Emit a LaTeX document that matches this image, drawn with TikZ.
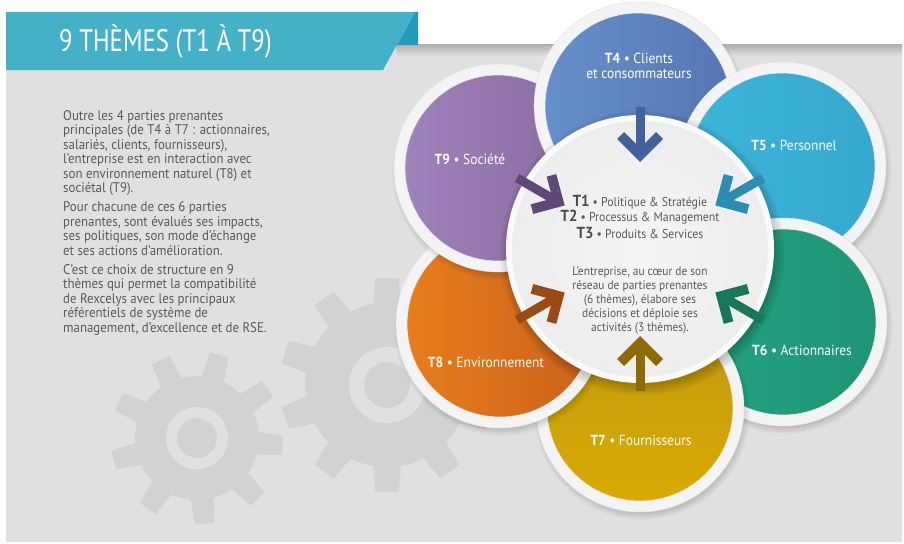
\documentclass[tikz,border=0pt]{standalone}
\usepackage{fontspec}
\setmainfont{PT Sans}[FakeStretch=0.92]
\newfontfamily\titlefont{PT Sans}[FakeStretch=0.8]
\usetikzlibrary{calc}
\definecolor{panel}{HTML}{E0E0E0}
\definecolor{tealband}{HTML}{45B1C8}
\definecolor{tealdark}{HTML}{1E9CB9}
\definecolor{txt}{HTML}{5A5A5A}
\definecolor{txtdark}{HTML}{4A4A4A}
\definecolor{gearcol}{HTML}{D2D2D2}
\definecolor{ringcol}{HTML}{F4F4F4}
\definecolor{cTfoura}{HTML}{6690CA}\definecolor{cTfourb}{HTML}{5676B2}
\definecolor{cTfivea}{HTML}{3DB5DA}\definecolor{cTfiveb}{HTML}{36A8CF}
\definecolor{cTsixa}{HTML}{22A381}\definecolor{cTsixb}{HTML}{1F9576}
\definecolor{cTsevena}{HTML}{C09A0E}\definecolor{cTsevenb}{HTML}{D9AA05}
\definecolor{cTeighta}{HTML}{E87D1C}\definecolor{cTeightb}{HTML}{C9621B}
\definecolor{cTninea}{HTML}{A082BC}\definecolor{cTnineb}{HTML}{88699F}
\definecolor{aTfour}{HTML}{41629C}
\definecolor{aTfive}{HTML}{2C8DB2}
\definecolor{aTsix}{HTML}{17775A}
\definecolor{aTseven}{HTML}{8C6B07}
\definecolor{aTeight}{HTML}{9A4B14}
\definecolor{aTnine}{HTML}{5D4878}
\tikzset{
  lbl/.style={text=white, font=\fontsize{14.6}{15}\selectfont, inner sep=0pt, align=center},
  bodytext/.style={text=txt, font=\fontsize{14}{14.5}\selectfont, inner sep=0pt, align=left},
  centertext/.style={text=txt, font=\fontsize{12.4}{14}\selectfont, inner sep=0pt, align=center},
  tline/.style={text=txt, font=\fontsize{12.8}{15.5}\selectfont, inner sep=0pt, align=center},
}
\newcommand\tnum[1]{{\color{txtdark}\fontsize{16}{16}\selectfont\bfseries #1}}
\newcommand\themedisk[3]{%
  \foreach \k in {1,...,6}{\fill[black,opacity=0.03] (#1+2,#2+4) circle[radius={98pt+1.6*\k pt}];}
  \fill[ringcol] (#1,#2) circle[radius=104pt];
  \draw[black!10, line width=0.5pt] (#1,#2) circle[radius=104pt];
  \shade[#3] (#1,#2) circle[radius=93pt];
  \draw[black!8, line width=0.6pt] (#1,#2) circle[radius=93pt];
}
\newcommand\gearshape[9]{%
  \foreach \i in {1,...,#6}{%
    \pgfmathsetmacro\ang{#7+(\i-1)*360/#6}
    \fill[gearcol, rotate around={\ang:(#1,#2)}] (#1-#5/2,#2-#3+3) -- (#1-#5*0.42,#2-#4) -- (#1+#5*0.42,#2-#4) -- (#1+#5/2,#2-#3+3) -- cycle;
  }
  \fill[gearcol] (#1,#2) circle[radius=#3 pt];
  \fill[panel, even odd rule] (#1,#2) circle[radius=#8 pt] (#1,#2) circle[radius=#9 pt];
}
\newcommand\inarrow[3]{%
  \coordinate (#3s) at ($(ctr)+(#1:142pt)$);
  \coordinate (#3t) at ($(ctr)+(#1:87pt)$);
  \coordinate (#3m) at ($(ctr)+(#1:99pt)$);
  \draw[line width=9pt, #2] (#3s) -- (#3m);
  \fill[#2, shift={(#3t)}, rotate=#1+180] (0pt,0pt) -- (-23pt,23pt) -- (-30pt,16pt) -- (-14pt,0pt) -- (-30pt,-16pt) -- (-23pt,-23pt) -- cycle;
}
\begin{document}
\begin{tikzpicture}[x=1pt,y=-1pt]
\useasboundingbox (0,0) rectangle (904,543);
\fill[white] (0,0) rectangle (904,543);
\fill[panel] (6,45) rectangle (902,542);
\shade[top color=black!30, bottom color=panel] (396,45) rectangle (902,56);
% gears
\gearshape{197}{438}{62}{86}{23}{9}{25}{31}{20}
\gearshape{387}{385}{82}{107}{28}{10}{0}{38}{23}
% banner
\fill[tealband] (6,12) -- (415,12) -- (383,70) -- (6,70) -- cycle;
\fill[tealdark] (415,12) -- (418,12) -- (418,45) -- (397,45) -- cycle;
\node[anchor=west, text=white, font=\titlefont\fontsize{31}{32}\selectfont, inner sep=0pt] (title) at (59,41) {9 THÈMES (T1 À T9)};
% left text
\node[bodytext, anchor=north west] (intro) at (63,110) {%
Outre les 4 parties prenantes\\
principales (de T4 à T7 : actionnaires,\\
salariés, clients, fournisseurs),\\
l’entreprise est en interaction avec\\
son environnement naturel (T8) et\\
sociétal (T9).\\[4.5pt]
Pour chacune de ces 6 parties\\
prenantes, sont évalués ses impacts,\\
ses politiques, son mode d’échange\\
et ses actions d’amélioration.\\[4.5pt]
C’est ce choix de structure en 9\\
thèmes qui permet la compatibilité\\
de Rexcelys avec les principaux\\
référentiels de système de\\
management, d’excellence et de RSE.};
% outer circles (pinwheel overlap)
\themedisk{638}{106}{left color=cTfoura,right color=cTfourb}
\themedisk{782}{166}{left color=cTfivea,right color=cTfiveb}
\themedisk{783}{322}{left color=cTsixa,right color=cTsixb}
\themedisk{640}{408}{top color=cTsevena,bottom color=cTsevenb}
\themedisk{500}{324}{left color=cTeighta,right color=cTeightb}
\begin{scope}[even odd rule]
\clip (0,0) -- (904,0) -- (904,543) -- (0,543) -- cycle (638,106) circle[radius=104.3pt];
\themedisk{498}{168}{left color=cTninea,right color=cTnineb}
\end{scope}
% center disk
\node[coordinate] (ctr) at (640,249) {};
\foreach \k in {1,...,7}{\fill[black,opacity=0.03] (642,253) circle[radius={131pt+1.6*\k pt}];}
\fill[white!98!black] (ctr) circle[radius=134pt];
\shade[inner color=white!96!black, outer color=white!93!black] (ctr) circle[radius=128pt];
% arrows
\inarrow{90}{aTfour}{afour}
\inarrow{30}{aTfive}{afive}
\inarrow{-30}{aTsix}{asix}
\inarrow{-90}{aTseven}{aseven}
\inarrow{210}{aTeight}{aeight}
\inarrow{150}{aTnine}{anine}
% labels
\node[lbl] (lfour) at (639,66) {\textbf{T4} • Clients\\et consommateurs};
\node[lbl] (lfive) at (794,145) {\textbf{T5} • Personnel};
\node[lbl] (lsix) at (802,350) {\textbf{T6} • Actionnaires};
\node[lbl] (lseven) at (641,440) {\textbf{T7} • Fournisseurs};
\node[lbl] (leight) at (486,362) {\textbf{T8} • Environnement};
\node[lbl] (lnine) at (470,159) {\textbf{T9} • Société};
\node[tline] (tone) at (640,202) {\tnum{T1} • Politique \& Stratégie};
\node[tline] (ttwo) at (640,217.5) {\tnum{T2} • Processus \& Management};
\node[tline] (tthree) at (640,233) {\tnum{T3} • Produits \& Services};
\node[centertext, anchor=north] (para) at (640,267) {L’entreprise, au cœur de son\\réseau de parties prenantes\\(6 thèmes), élabore ses\\décisions et déploie ses\\activités (3 thèmes).};
\end{tikzpicture}
\end{document}
